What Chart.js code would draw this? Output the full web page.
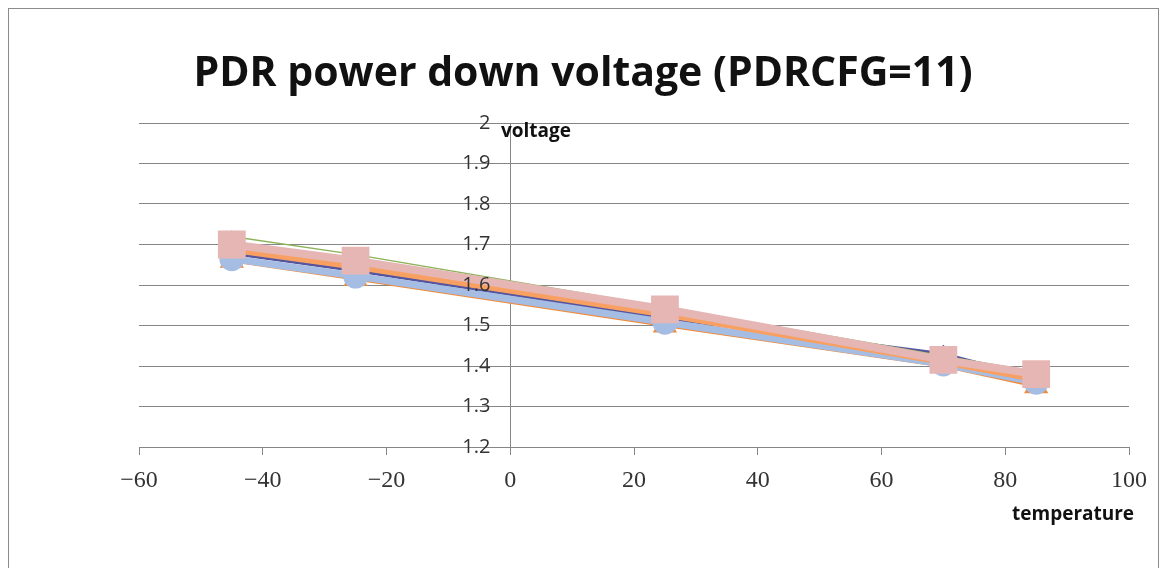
<!DOCTYPE html>
<html>
<head>
<meta charset="utf-8">
<script src="https://cdn.jsdelivr.net/npm/chart.js@4"></script>
<style>
  html, body { margin: 0; padding: 0; background: #fff; }
  #wrap { width: 1160px; height: 568px; }
</style>
</head>
<body>
<div id="wrap"><canvas id="c" width="1160" height="568"></canvas></div>
<script>
const chartTitle = 'PDR power down voltage (PDRCFG=11)';
const xAxisTitle = 'temperature';
const yAxisTitle = 'voltage';
const temperatures = [-45, -25, 25, 70, 85];
const seriesGreen = [1.72, 1.675, 1.545, 1.425, 1.385];
const seriesDark = [1.678, 1.635, 1.518, 1.43, 1.37];
const seriesOrange = [1.66, 1.615, 1.50, 1.40, 1.35];
const seriesLightOrange = [1.687, 1.645, 1.527, 1.41, 1.367];
const seriesLightBlue = [1.665, 1.622, 1.508, 1.405, 1.36];
const seriesPink = [1.70, 1.66, 1.54, 1.415, 1.38];
const xMin = -60, xMax = 100, xStep = 20;
const yMin = 1.2, yMax = 2, yStep = 0.1;
const yLabelColumnX = -3.2;

function pts(arr) { return temperatures.map((t, i) => ({ x: t, y: arr[i] })); }

const decor = {
  id: 'decor',
  beforeDraw(chart) {
    const ctx = chart.ctx;
    ctx.save();
    ctx.fillStyle = '#fff';
    ctx.fillRect(0, 0, chart.width, chart.height);
    ctx.strokeStyle = '#8c8c8c';
    ctx.lineWidth = 1;
    ctx.strokeRect(8.5, 8.5, 1150, 575);
    ctx.restore();
  },
  afterDraw(chart) {
    const ctx = chart.ctx;
    ctx.save();
    ctx.fillStyle = '#111';
    ctx.textBaseline = 'alphabetic';
    ctx.textAlign = 'center';
    ctx.font = 'bold 41px "Open Sans"';
    ctx.fillText(chartTitle, 583, 86);
    ctx.textAlign = 'left';
    ctx.font = 'bold 19px "Open Sans"';
    ctx.fillText(yAxisTitle, 501, 137);
    ctx.fillText(xAxisTitle, 1012, 520);
    ctx.restore();
  }
};

new Chart(document.getElementById('c'), {
  type: 'scatter',
  data: {
    datasets: [
      { label: 'pink', data: pts(seriesPink), showLine: true, borderColor: '#E6B6B5', backgroundColor: '#E6B6B5', borderWidth: 8, pointStyle: 'rect', pointRadius: 14 },
      { label: 'green', data: pts(seriesGreen), showLine: true, borderColor: '#8DB35A', backgroundColor: '#8DB35A', borderWidth: 1.5, pointStyle: 'triangle', pointRadius: 5 },
      { label: 'lightorange', data: pts(seriesLightOrange), showLine: true, borderColor: '#F7A062', backgroundColor: '#F7A062', borderWidth: 6, pointStyle: 'triangle', pointRadius: 7 },
      { label: 'lightblue', data: pts(seriesLightBlue), showLine: true, borderColor: '#A6BDE3', backgroundColor: '#A6BDE3', borderWidth: 7, pointStyle: 'circle', pointRadius: 9 },
      { label: 'dark', data: pts(seriesDark), showLine: true, borderColor: '#55559F', backgroundColor: '#4B4B9B', borderWidth: 3, pointStyle: 'rectRot', pointRadius: 7 },
      { label: 'orange', data: pts(seriesOrange), showLine: true, borderColor: '#F08A3C', backgroundColor: '#EE8636', borderWidth: 3, pointStyle: 'triangle', pointRadius: 11 }
    ]
  },
  options: {
    responsive: false,
    animation: false,
    events: [],
    layout: { padding: { left: 139, right: 31, top: 123, bottom: 0 } },
    plugins: { legend: { display: false }, title: { display: false }, tooltip: { enabled: false } },
    elements: { line: { tension: 0 }, point: { borderWidth: 0 } },
    scales: {
      x: {
        type: 'linear',
        position: 'bottom',
        min: xMin, max: xMax,
        afterFit(scale) { scale.height = 121; },
        ticks: {
          stepSize: xStep,
          padding: 11,
          color: '#333',
          font: { family: '"Liberation Serif"', size: 24 },
          callback: v => String(v).replace('-', '\u2212')
        },
        grid: { drawOnChartArea: false, drawTicks: true, tickLength: 8, color: '#868686', lineWidth: 1 },
        border: { display: true, color: '#868686', width: 1 }
      },
      y: {
        type: 'linear',
        position: { x: 0 },
        min: yMin, max: yMax,
        ticks: { display: false, stepSize: yStep },
        grid: { drawOnChartArea: true, drawTicks: false, color: '#868686', lineWidth: 1 },
        border: { display: true, color: '#868686', width: 1 }
      },
      yLabels: {
        type: 'linear',
        position: { x: yLabelColumnX },
        min: yMin, max: yMax,
        ticks: {
          z: 1,
          stepSize: yStep,
          padding: 0,
          color: '#333',
          font: { family: '"Open Sans"', size: 20 },
          callback: v => String(Number(v.toFixed(1)))
        },
        grid: { display: false, drawOnChartArea: false, drawTicks: false },
        border: { display: false }
      }
    }
  },
  plugins: [decor]
});
</script>
</body>
</html>
